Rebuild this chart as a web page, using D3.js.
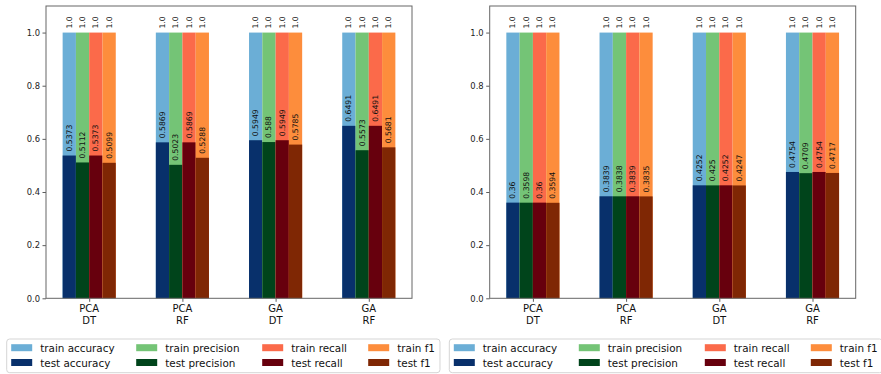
<!DOCTYPE html>
<html>
<head>
<meta charset="utf-8">
<script src="https://cdn.jsdelivr.net/npm/d3@7"></script>
<style>
  body { margin: 0; background: #fff; }
  svg { display: block; font-family: "DejaVu Sans", sans-serif; }
</style>
</head>
<body>
<div id="chart"></div>
<script>
// tick labels (two lines each)
const groups = [["PCA", "DT"], ["PCA", "RF"], ["GA", "DT"], ["GA", "RF"]];
const metrics = ["accuracy", "precision", "recall", "f1"];
const yTicks = [0, 0.2, 0.4, 0.6, 0.8, 1.0];

// colours for train / test per metric
const trainColors = ["#6baed6", "#74c476", "#fb6a4a", "#fd8d3c"];
const testColors = ["#08306b", "#00441b", "#67000d", "#7f2704"];

// left panel values, [group][metric]
const trainLeft = [[1.0, 1.0, 1.0, 1.0], [1.0, 1.0, 1.0, 1.0], [1.0, 1.0, 1.0, 1.0], [1.0, 1.0, 1.0, 1.0]];
const testLeft = [
    [0.5373, 0.5112, 0.5373, 0.5099],
    [0.5869, 0.5023, 0.5869, 0.5288],
    [0.5949, 0.588, 0.5949, 0.5785],
    [0.6491, 0.5573, 0.6491, 0.5681]
];

// right panel values
const trainRight = [[1.0, 1.0, 1.0, 1.0], [1.0, 1.0, 1.0, 1.0], [1.0, 1.0, 1.0, 1.0], [1.0, 1.0, 1.0, 1.0]];
const testRight = [
    [0.36, 0.3598, 0.36, 0.3594],
    [0.3839, 0.3838, 0.3839, 0.3835],
    [0.4252, 0.425, 0.4252, 0.4247],
    [0.4754, 0.4709, 0.4754, 0.4717]
];

const W = 881, H = 374;
const svg = d3.select("#chart").append("svg")
    .attr("width", W)
    .attr("height", H);

const barW = 0.1425;
const fmt = v => String(v);

const drawPanel = (left, train, test, legendX) => {
    const axW = 366, top = 6, bottom = 298.3;

    const x = d3.scaleLinear().domain([-2 * barW - 0.1785, 3 + 2 * barW + 0.1785]).range([left, left + axW]);
    const y = d3.scaleLinear().domain([0, 1.1]).range([bottom, top]);

    const g = svg.append("g");

    // bars: train first, test on top
    groups.forEach((grp, i) => {
        metrics.forEach((m, j) => {
            const x0 = i + (j - 2) * barW;
            g.append("rect")
                .attr("x", x(x0))
                .attr("y", y(train[i][j]))
                .attr("width", x(x0 + barW) - x(x0))
                .attr("height", y(0) - y(train[i][j]))
                .attr("fill", trainColors[j]);
            g.append("rect")
                .attr("x", x(x0))
                .attr("y", y(test[i][j]))
                .attr("width", x(x0 + barW) - x(x0))
                .attr("height", y(0) - y(test[i][j]))
                .attr("fill", testColors[j]);
        });
    });

    // value labels
    groups.forEach((grp, i) => {
        metrics.forEach((m, j) => {
            const cx = x(i + (j - 1.5) * barW);
            [train[i][j], test[i][j]].forEach((v, k) => {
                const yy = y(v) - 4;
                g.append("text")
                    .attr("transform", `translate(${cx},${yy}) rotate(-90)`)
                    .attr("text-anchor", "start")
                    .attr("dominant-baseline", "central")
                    .attr("font-size", "7.7px")
                    .attr("fill", "#111")
                    .text(k === 0 ? v.toFixed(1) : fmt(v));
            });
        });
    });

    // y axis
    const yAxis = g.append("g")
        .attr("transform", `translate(${left},0)`)
        .call(d3.axisLeft(y).tickValues(yTicks).tickFormat(d3.format(".1f")).tickSize(3.5).tickPadding(2.5));
    yAxis.select(".domain").remove();
    yAxis.selectAll("line").attr("stroke", "#333").attr("stroke-width", 0.8);
    yAxis.selectAll("text").attr("font-size", "8.4px").attr("fill", "#222").attr("font-family", "DejaVu Sans");

    // x axis
    const xAxis = g.append("g")
        .attr("transform", `translate(0,${bottom})`)
        .call(d3.axisBottom(x).tickValues([0, 1, 2, 3]).tickFormat("").tickSize(3.5));
    xAxis.select(".domain").remove();
    xAxis.selectAll("line").attr("stroke", "#333").attr("stroke-width", 0.8);
    groups.forEach((grp, i) => {
        grp.forEach((line, k) => {
            g.append("text")
                .attr("x", x(i))
                .attr("y", bottom + 13.5 + k * 12)
                .attr("text-anchor", "middle")
                .attr("font-size", "10px")
                .attr("fill", "#111")
                .text(line);
        });
    });

    // frame
    g.append("rect")
        .attr("x", left)
        .attr("y", top)
        .attr("width", axW)
        .attr("height", bottom - top)
        .attr("fill", "none")
        .attr("stroke", "#666")
        .attr("stroke-width", 1);

    // legend
    const lg = svg.append("g").attr("transform", `translate(${legendX},339)`);
    lg.append("rect")
        .attr("width", 433.3)
        .attr("height", 33.7)
        .attr("rx", 3)
        .attr("fill", "#fff")
        .attr("stroke", "#d5d5d5")
        .attr("stroke-width", 1);
    const colX = [4.5, 129.5, 255.5, 361.5];
    metrics.forEach((m, j) => {
        [["train", trainColors[j]], ["test", testColors[j]]].forEach((row, r) => {
            const cy = 8.7 + r * 14.8;
            lg.append("rect")
                .attr("x", colX[j])
                .attr("y", cy - 3.5)
                .attr("width", 21)
                .attr("height", 7)
                .attr("fill", row[1]);
            lg.append("text")
                .attr("x", colX[j] + 29)
                .attr("y", cy)
                .attr("dominant-baseline", "central")
                .attr("font-size", "10.4px")
                .attr("fill", "#111")
                .text(row[0] + " " + m);
        });
    });
};

drawPanel(46, trainLeft, testLeft, 6.7);
drawPanel(489.7, trainRight, testRight, 449.3);
</script>
</body>
</html>
